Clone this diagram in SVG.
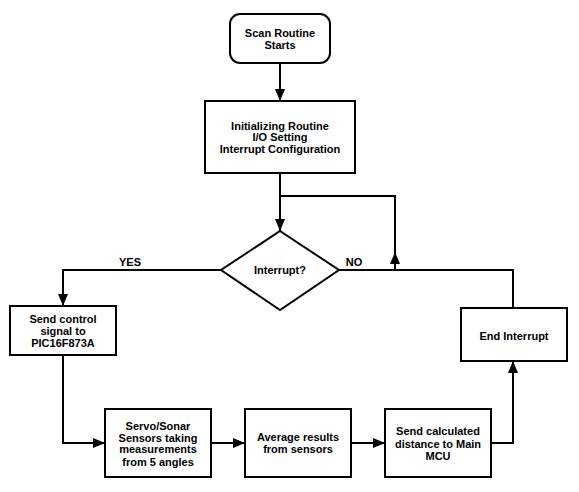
<svg xmlns="http://www.w3.org/2000/svg" width="579" height="492" viewBox="0 0 579 492">
<style>
.box{fill:#fff;stroke:#000;stroke-width:2}
.ln{fill:none;stroke:#000;stroke-width:2}
text{font-family:"Liberation Sans",Arial,sans-serif;font-size:11px;font-weight:bold;text-anchor:middle;fill:#000}
</style>
<defs>
<marker id="ah" markerUnits="userSpaceOnUse" markerWidth="12" markerHeight="10" refX="12" refY="5" orient="auto">
<path d="M0,0 L12,5 L0,10 z" fill="#000"/>
</marker>
</defs>
<rect width="579" height="492" fill="#fff"/>
<g id="connectors">
<path class="ln" d="M280,63 L280,101" marker-end="url(#ah)"/>
<path class="ln" d="M280,173 L280,231" marker-end="url(#ah)"/>
<path class="ln" d="M395,270 L395,252" marker-end="url(#ah)"/>
<path class="ln" d="M395,253 L395,196 L280,196"/>
<path class="ln" d="M339,270 L513,270 L513,307"/>
<path class="ln" d="M221,270 L63,270 L63,306" marker-end="url(#ah)"/>
<path class="ln" d="M63,355 L63,443 L105,443" marker-end="url(#ah)"/>
<path class="ln" d="M211,443 L245,443" marker-end="url(#ah)"/>
<path class="ln" d="M351,443 L385,443" marker-end="url(#ah)"/>
<path class="ln" d="M491,443 L513,443 L513,361" marker-end="url(#ah)"/>
<text x="130" y="266">YES</text>
<text x="354" y="266">NO</text>
</g>
<g id="start">
<rect class="box" x="230" y="14" width="100" height="49" rx="10"/>
<text x="280" y="37">Scan Routine</text>
<text x="280" y="49">Starts</text>
</g>
<g id="init">
<rect class="box" x="205" y="101" width="150" height="72"/>
<text x="280" y="130">Initializing Routine</text>
<text x="280" y="141">I/O Setting</text>
<text x="280" y="153">Interrupt Configuration</text>
</g>
<g id="decision">
<polygon class="box" points="280,231 339,270 280,310 221,270"/>
<text x="280" y="274">Interrupt?</text>
</g>
<g id="send-control">
<rect class="box" x="10" y="306" width="106" height="49"/>
<text x="63" y="323">Send control</text>
<text x="63" y="335">signal to</text>
<text x="63" y="347">PIC16F873A</text>
</g>
<g id="servo">
<rect class="box" x="105" y="409" width="106" height="68"/>
<text x="158" y="430">Servo/Sonar</text>
<text x="158" y="442">Sensors taking</text>
<text x="158" y="453">measurements</text>
<text x="158" y="466">from 5 angles</text>
</g>
<g id="average">
<rect class="box" x="245" y="409" width="106" height="68"/>
<text x="298" y="441">Average results</text>
<text x="298" y="453">from sensors</text>
</g>
<g id="send-calc">
<rect class="box" x="385" y="409" width="106" height="68"/>
<text x="438" y="435">Send calculated</text>
<text x="438" y="448">distance to Main</text>
<text x="438" y="460">MCU</text>
</g>
<g id="end">
<rect class="box" x="461" y="308" width="106" height="53"/>
<text x="514" y="340">End Interrupt</text>
</g>
</svg>
